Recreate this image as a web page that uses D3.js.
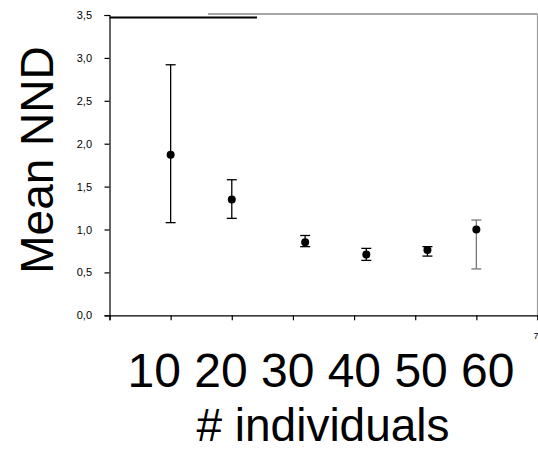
<!DOCTYPE html>
<html>
<head>
<meta charset="utf-8">
<script src="https://cdn.jsdelivr.net/npm/d3@7"></script>
<style>
  body { margin: 0; background: #fff; }
  svg { display: block; font-family: "Liberation Sans", Arial, sans-serif; }
</style>
</head>
<body>
<div id="chart"></div>
<script>
// data
const groupX = [1, 2, 3.2, 4.2, 5.2, 6];
const meanNND = [1.87, 1.35, 0.85, 0.71, 0.76, 1.00];
const upperNND = [2.92, 1.58, 0.93, 0.78, 0.80, 1.11];
const lowerNND = [1.08, 1.13, 0.80, 0.64, 0.69, 0.54];
const barColors = ["#000", "#000", "#000", "#000", "#000", "#777"];
const yTicks = [0, 0.5, 1, 1.5, 2, 2.5, 3, 3.5];
const xTicks = [0, 1, 2, 3, 4, 5, 6, 7];
const xTickLabels = ["", "", "", "", "", "", "", "7"];
const groupLabels = "10 20 30 40 50 60";

const width = 538, height = 451;
const plotLeft = 109.5, plotRight = 537.5, plotTop = 15, plotBottom = 315.3;

const svg = d3.select("#chart").append("svg")
    .attr("width", width)
    .attr("height", height);

const x = d3.scaleLinear().domain([0, 7]).range([plotLeft, plotRight]);
const y = d3.scaleLinear().domain([0, 3.5]).range([plotBottom, plotTop]);

// frame lines (top and right)
svg.append("line")
    .attr("x1", 208).attr("x2", plotRight)
    .attr("y1", 14).attr("y2", 14)
    .attr("stroke", "#888").attr("stroke-width", 1.5);
svg.append("line")
    .attr("x1", plotRight).attr("x2", plotRight)
    .attr("y1", 14).attr("y2", plotBottom)
    .attr("stroke", "#999").attr("stroke-width", 1.2);
svg.append("line")
    .attr("x1", plotLeft).attr("x2", 257)
    .attr("y1", 17.5).attr("y2", 17.5)
    .attr("stroke", "#000").attr("stroke-width", 2);

// axes
const yAxis = svg.append("g")
    .attr("transform", `translate(${plotLeft},0)`)
    .call(d3.axisLeft(y).tickValues(yTicks).tickSize(5).tickPadding(12.5)
        .tickFormat(d => d3.format(".1f")(d).replace(".", ",")));
const xAxis = svg.append("g")
    .attr("transform", `translate(0,${plotBottom})`)
    .call(d3.axisBottom(x).tickValues(xTicks).tickSize(5).tickPadding(12)
        .tickFormat((d, i) => xTickLabels[i]));

[yAxis, xAxis].forEach(g => {
    g.select(".domain").attr("stroke", "#000").attr("stroke-width", 1.2);
    g.selectAll(".tick line").attr("stroke", "#000").attr("stroke-width", 1.2);
    g.selectAll("text").attr("fill", "#000")
        .style("font-family", "'Liberation Sans', Arial, sans-serif");
});
yAxis.selectAll("text").style("font-size", "11px");
xAxis.selectAll("text").style("font-size", "9px")
    .attr("text-anchor", "end").attr("dx", "0.5");

// error bars
const pts = groupX.map((gx, i) => ({ x: gx, m: meanNND[i], hi: upperNND[i], lo: lowerNND[i], c: barColors[i] }));
const bars = svg.append("g").selectAll("g").data(pts).join("g");
bars.append("line")
    .attr("x1", d => x(d.x)).attr("x2", d => x(d.x))
    .attr("y1", d => y(d.hi)).attr("y2", d => y(d.lo))
    .attr("stroke", d => d.c).attr("stroke-width", 1.3);
bars.selectAll(".cap")
    .data(d => [d.hi, d.lo].map(v => ({ x: d.x, v: v, c: d.c })))
    .join("line")
    .attr("class", "cap")
    .attr("x1", d => x(d.x) - 5).attr("x2", d => x(d.x) + 5)
    .attr("y1", d => y(d.v)).attr("y2", d => y(d.v))
    .attr("stroke", d => d.c).attr("stroke-width", 1.3);
bars.append("circle")
    .attr("cx", d => x(d.x)).attr("cy", d => y(d.m))
    .attr("r", 4)
    .attr("fill", "#000");

// big labels
svg.append("text")
    .attr("x", 321).attr("y", 387)
    .attr("text-anchor", "middle")
    .style("font-size", "48px")
    .text(groupLabels);
svg.append("text")
    .attr("x", 323).attr("y", 441)
    .attr("text-anchor", "middle")
    .style("font-size", "46px")
    .text("# individuals");
svg.append("text")
    .attr("transform", "translate(53,160) rotate(-90)")
    .attr("text-anchor", "middle")
    .style("font-size", "46px")
    .text("Mean NND");
</script>
</body>
</html>
